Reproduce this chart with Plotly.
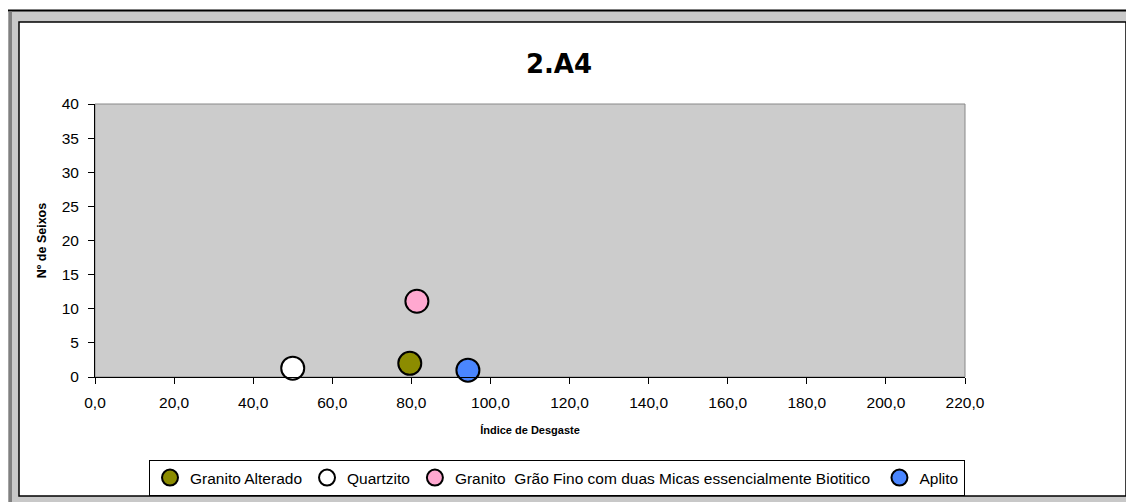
import plotly.graph_objects as go

# Data
series_names = [
    "Granito Alterado",
    "Quartzito",
    "Granito\u00a0 Grão Fino com duas Micas essencialmente Biotitico\u00a0",
    "Aplito",
]
x_values = [[79.6], [50.0], [81.4], [94.3]]
y_values = [[2.0], [1.3], [11.1], [1.0]]
colors = ["#8c8c00", "#ffffff", "#ffa8d0", "#4a86ff"]

x_tickvals = [0, 20, 40, 60, 80, 100, 120, 140, 160, 180, 200, 220]
x_ticktext = ["0,0", "20,0", "40,0", "60,0", "80,0", "100,0", "120,0", "140,0",
              "160,0", "180,0", "200,0", "220,0"]
y_tickvals = [0, 5, 10, 15, 20, 25, 30, 35, 40]

# page offset (default body margin of the html page)
OFF = 8
PW, PH = 1134, 502            # target picture size
W, H = PW - OFF, PH - OFF     # figure size
L, R, T, B = 95, 965, 104, 377  # plot area in picture px

fig = go.Figure()
for name, xs, ys, c in zip(series_names, x_values, y_values, colors):
    fig.add_trace(go.Scatter(
        x=xs, y=ys, mode="markers", name=name,
        marker=dict(size=23, color=c, line=dict(color="black", width=2)),
        cliponaxis=False,
    ))

def px_x(p):
    return (p - L) / (R - L)

def px_y(p):
    return (B - p) / (B - T)

shapes = [
    # outer gray frame
    dict(type="rect", xref="paper", yref="paper", layer="below",
         x0=px_x(7), x1=px_x(1145), y0=px_y(515), y1=px_y(10.5),
         fillcolor="#c8c8c8", line=dict(color="black", width=2)),
    # dark left strip
    dict(type="rect", xref="paper", yref="paper", layer="below",
         x0=px_x(8.5), x1=px_x(12), y0=px_y(515), y1=px_y(11.5),
         fillcolor="#808080", line=dict(width=0)),
    # inner white chart area
    dict(type="rect", xref="paper", yref="paper", layer="below",
         x0=px_x(19), x1=px_x(1126), y0=px_y(496), y1=px_y(22),
         fillcolor="white", line=dict(color="black", width=1.5)),
    # plot area gray with border
    dict(type="rect", xref="paper", yref="paper", layer="below",
         x0=0, x1=1, y0=0, y1=1,
         fillcolor="#cccccc", line=dict(color="#888888", width=1)),
]

fig.update_layout(
    width=W, height=H,
    margin=dict(l=L - OFF, r=PW - R, t=T - OFF, b=PH - B),
    paper_bgcolor="white",
    plot_bgcolor="rgba(0,0,0,0)",
    shapes=shapes,
    font=dict(family="Liberation Sans, Arial, sans-serif", size=15.5, color="black"),
    title=dict(text="<b>2.A4</b>", xref="container", yref="container",
               x=(559 - OFF) / W, y=1 - (64 - OFF) / H, xanchor="center", yanchor="middle",
               font=dict(family="DejaVu Sans, Verdana, sans-serif", size=26, color="black")),
    showlegend=True,
    legend=dict(orientation="h", xref="container", yref="container",
                x=(149 - OFF) / W, y=1 - (460 - OFF) / H, xanchor="left", yanchor="top",
                bordercolor="black", borderwidth=1, bgcolor="white",
                font=dict(family="Liberation Sans, Arial, sans-serif", size=15.5),
                itemsizing="trace", tracegroupgap=0),
    xaxis=dict(range=[0, 220], tickvals=x_tickvals, ticktext=x_ticktext,
               showgrid=False, zeroline=False, showline=True, linecolor="black",
               linewidth=1, ticks="outside", ticklen=6, tickcolor="black",
               ticklabelstandoff=5,
               title=dict(text="<b>Índice de Desgaste</b>",
                          font=dict(size=11), standoff=16)),
    yaxis=dict(range=[0, 40], tickvals=y_tickvals,
               showgrid=False, zeroline=False, showline=True, linecolor="black",
               linewidth=1, ticks="outside", ticklen=6, tickcolor="black",
               ticklabelstandoff=6,
               title=dict(text="<b>Nº de Seixos</b>", font=dict(size=12.5), standoff=12)),
)

fig.write_html("out.html")
